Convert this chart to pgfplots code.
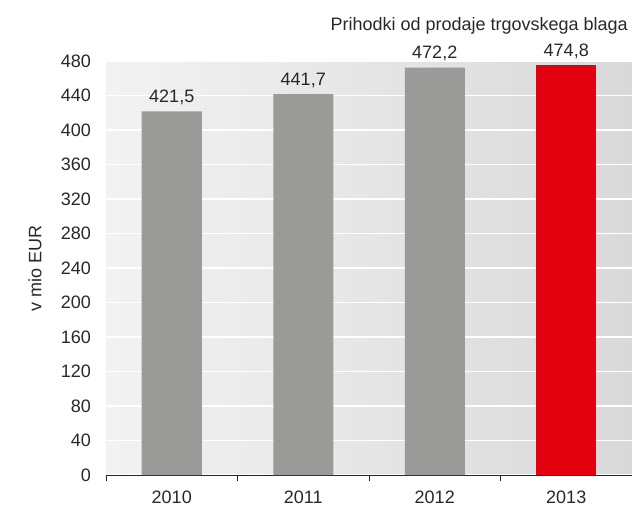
\documentclass[border=0pt]{standalone}
\usepackage{fontspec}
\setmainfont{Liberation Sans}
\usepackage{pgfplots}
\pgfplotsset{compat=1.18}

\definecolor{bargray}{RGB}{154,155,153}
\definecolor{barred}{RGB}{227,0,15}
\definecolor{txt}{RGB}{40,40,40}

\begin{document}
\fontsize{18bp}{22bp}\selectfont
\begin{tikzpicture}
  \useasboundingbox (-106bp,-31bp) rectangle (526bp,475bp);
  \begin{axis}[
      at={(0,0)}, anchor=south west,
      scale only axis,
      width=526bp, height=414bp,
      xmin=-0.5, xmax=3.5,
      ymin=0, ymax=480,
      ytick={0,40,...,480},
      xtick={0,1,2,3},
      xticklabels={2010,2011,2012,2013},
      minor xtick={-0.5,0.5,1.5,2.5,3.5},
      major tick length=0pt,
      minor tick length=6bp,
      tick align=outside,
      /pgf/number format/assume math mode=true,
      axis x line*=bottom,
      axis y line*=left,
      x axis line style={-, line width=0.8bp, color=black!85},
      y axis line style={draw=none},
      minor x tick style={line width=0.8bp, color=black!85},
      ymajorgrids,
      grid style={white, line width=1.4bp},
      axis background/.style={left color=black!5, right color=black!15},
      xticklabel style={anchor=north, inner sep=0pt, yshift=-16bp, text=txt},
      yticklabel style={anchor=east, inner sep=0pt, xshift=-15bp, text=txt},
      ybar, bar width=60bp, bar shift=0pt,
      nodes near coords,
      point meta=explicit symbolic,
      nodes near coords style={anchor=south, inner sep=0pt, yshift=6.5bp, text=txt},
    ]
    \addplot[fill=bargray, draw=none] coordinates {
      (0,421.5) [421,5]
      (1,441.7) [441,7]
      (2,472.2) [472,2]
    };
    \addplot[fill=barred, draw=none] coordinates {
      (3,474.8) [474,8]
    };
  \end{axis}
  \node[anchor=base east, inner sep=0pt, text=txt] at (522bp,444bp) {Prihodki od prodaje trgovskega blaga};
  \node[rotate=90, inner sep=0pt, text=txt] at (-71bp,207bp) {v mio EUR};
\end{tikzpicture}
\end{document}
